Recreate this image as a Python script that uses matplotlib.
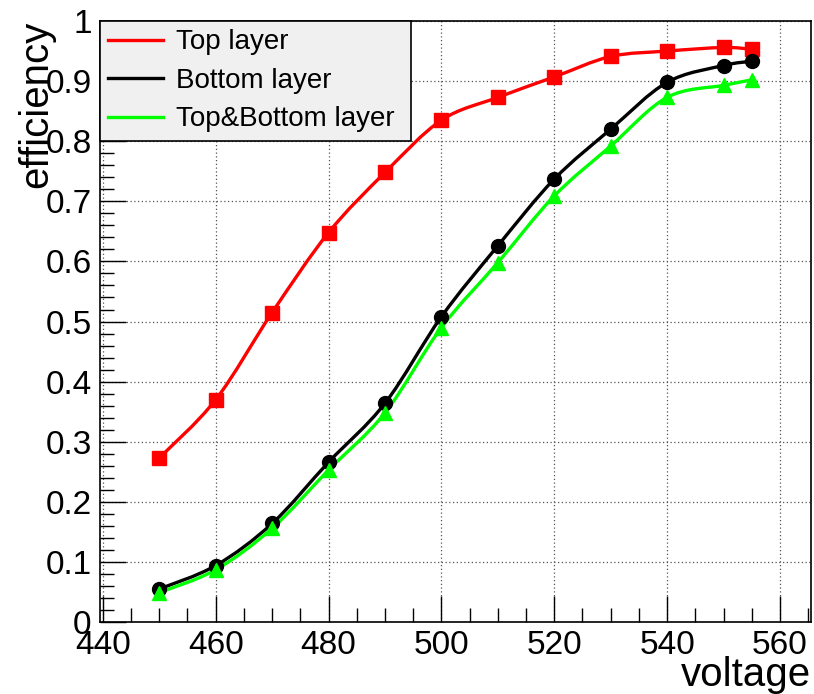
import numpy as np
import matplotlib
matplotlib.use("Agg")
import matplotlib.pyplot as plt
from matplotlib.path import Path
from matplotlib.patches import PathPatch
from matplotlib.lines import Line2D
from matplotlib.ticker import MultipleLocator

# --- data ---
voltage = [450, 460, 470, 480, 490, 500, 510, 520, 530, 540, 550, 555]
eff_top = [0.273, 0.370, 0.515, 0.648, 0.748, 0.835, 0.873, 0.907, 0.941, 0.950, 0.956, 0.953]
eff_bottom = [0.055, 0.094, 0.164, 0.266, 0.364, 0.508, 0.626, 0.737, 0.820, 0.898, 0.926, 0.933]
eff_both = [0.049, 0.087, 0.156, 0.253, 0.348, 0.490, 0.598, 0.709, 0.792, 0.873, 0.893, 0.902]
labels = ["Top layer", "Bottom layer", "Top&Bottom layer"]

plt.rcParams['font.family'] = ['Liberation Sans', 'DejaVu Sans']


def smooth_path(x, y):
    # Catmull-Rom through the points, drawn as cubic bezier segments
    p = np.column_stack([x, y]).astype(float)
    ext = np.vstack([p[0], p, p[-1]])
    verts = [p[0]]
    codes = [Path.MOVETO]
    for i in range(len(p) - 1):
        p0, p1, p2, p3 = ext[i], ext[i + 1], ext[i + 2], ext[i + 3]
        verts += [p1 + (p2 - p0) / 6, p2 - (p3 - p1) / 6, p2]
        codes += [Path.CURVE4] * 3
    return Path(verts, codes)


fig = plt.figure(figsize=(8.14, 6.94), dpi=100)
ax = fig.add_axes([0.1229, 0.1037, 0.8734, 0.866])

series = [
    (eff_top, '#ff0000', 's', 10),
    (eff_bottom, '#000000', 'o', 10),
    (eff_both, '#00ff00', '^', 9.5),
]
handles = []
for vals, col, mk, ms in series:
    ax.add_patch(PathPatch(smooth_path(voltage, vals), facecolor='none',
                           edgecolor=col, lw=2.4, zorder=3))
    ax.plot(voltage, vals, linestyle='none', marker=mk, color=col,
            markersize=ms, zorder=4)
    handles.append(Line2D([], [], color=col, lw=2.4))

ax.set_xlim(439.5, 565.5)
ax.set_ylim(0, 1)
ax.xaxis.set_major_locator(MultipleLocator(20))
ax.xaxis.set_minor_locator(MultipleLocator(5))
ax.yaxis.set_major_locator(MultipleLocator(0.1))
ax.yaxis.set_minor_locator(MultipleLocator(0.02))
ax.yaxis.set_major_formatter(plt.FuncFormatter(lambda v, p: f"{v:g}"))

ax.tick_params(which='major', direction='in', length=19, width=1,
               labelsize=24, pad=6)
ax.tick_params(which='minor', direction='in', length=10, width=1)
ax.tick_params(top=False, right=False, which='both')
ax.grid(True, which='major', linestyle=(0, (1, 2)), color='#555555', lw=0.9)
for s in ax.spines.values():
    s.set_linewidth(1.2)

ax.set_xlabel('voltage', fontsize=29, loc='right', labelpad=-4)
ax.set_ylabel('efficiency', fontsize=29, loc='top', labelpad=-7)

leg = ax.legend(handles, labels, loc='upper left',
                bbox_to_anchor=(0, 0.8117, 0.4374, 0.1883), mode='expand',
                borderaxespad=0, fancybox=False, framealpha=1,
                facecolor='#f0f0f0', edgecolor='black', fontsize=20,
                handlelength=1.95, handletextpad=0.5, labelspacing=0.45,
                borderpad=0.3)
leg.get_frame().set_linewidth(1.2)
leg.set_zorder(5)

fig.savefig('out.png', dpi=100)
